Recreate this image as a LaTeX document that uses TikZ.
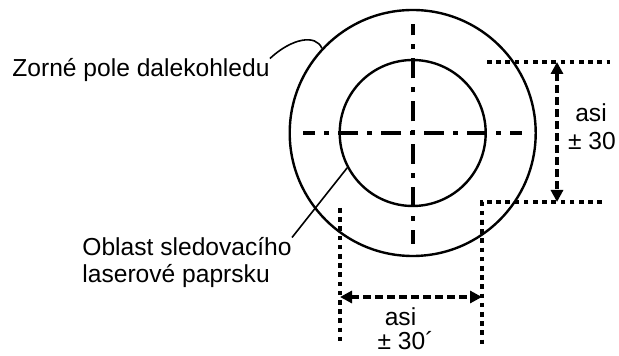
\documentclass[tikz,border=0pt]{standalone}
\usepackage{fontspec}
\setmainfont{Liberation Sans}
\usetikzlibrary{arrows.meta}
\usetikzlibrary{calc}
\tikzstyle{ring}=[circle,draw,line width=1.2pt,inner sep=0pt]
\tikzstyle{axisline}=[draw,line width=1.9pt,dash pattern=on 2.5pt off 4.5pt on 10pt off 4.5pt,dash phase=1.25pt]
\tikzstyle{dimline}=[draw,line width=1.7pt,dash pattern=on 2.3pt off 2.3pt]
\tikzstyle{dimarrow}=[draw,line width=1.9pt,dash pattern=on 4pt off 2pt,{Triangle[length=6pt,width=6pt]}-{Triangle[length=6pt,width=6pt]}]
\tikzstyle{leader}=[draw,line width=0.8pt]
\tikzstyle{txt}=[font=\fontsize{12.3}{14}\selectfont,inner sep=0pt]

\begin{document}
\begin{tikzpicture}[x=0.5pt,y=-0.5pt]
  \useasboundingbox (0,0) rectangle (619,356);

  % field of view and tracking area
  \node[ring,minimum size=123pt] (field) at (412.7,133) {};
  \node[ring,minimum size=73pt] (core) at (field.center) {};

  % cross hair
  \coordinate (crossW) at (303,133);
  \coordinate (crossE) at (522,133);
  \coordinate (crossN) at (412.7,24);
  \coordinate (crossS) at (412.7,244);
  \foreach \tip in {crossW,crossE,crossN,crossS}
  {
        \path[axisline] (field.center) -- (\tip);
  }

  % extension lines
  \coordinate (topA) at (487,62);
  \coordinate (topB) at (610,62);
  \coordinate (botB) at (602,202);
  \coordinate (corner) at (482,202);
  \coordinate (rightEnd) at (482,347);
  \coordinate (leftTop) at (340,208);
  \coordinate (leftEnd) at (340,343);
  \path[dimline] (topA) -- (topB);
  \path[dimline] (botB) -- (corner) -- (rightEnd);
  \path[dimline] (leftTop) -- (leftEnd);

  % dimension arrows
  \coordinate (vTop) at (557,62);
  \coordinate (vBot) at (557,202);
  \coordinate (hLeft) at (340,297);
  \coordinate (hRight) at (482,297);
  \path[dimarrow] (vTop) -- (vBot);
  \path[dimarrow] (hLeft) -- (hRight);

  % texts
  \node[txt,anchor=base west] (zorne) at (12,77) {Zorné pole dalekohledu};
  \node[txt,anchor=base west] (oblast) at (82,256) {Oblast sledovacího};
  \node[txt,anchor=base west] (laser) at (82,283) {laserové paprsku};
  \node[txt,anchor=base] (asiR) at (591,122) {asi};
  \node[txt,anchor=base] (rangeR) at (592,150) {± 30};
  \node[txt,anchor=base] (asiB) at (400.5,326) {asi};
  \node[txt,anchor=base] (rangeB) at (405.6,350) {± 30´};

  % leaders
  \path[leader] (zorne.north east) .. controls (292,38) and (316,34) .. (field.137.5);
  \path[leader] (oblast.north east) -- (core.208.5);
\end{tikzpicture}
\end{document}
